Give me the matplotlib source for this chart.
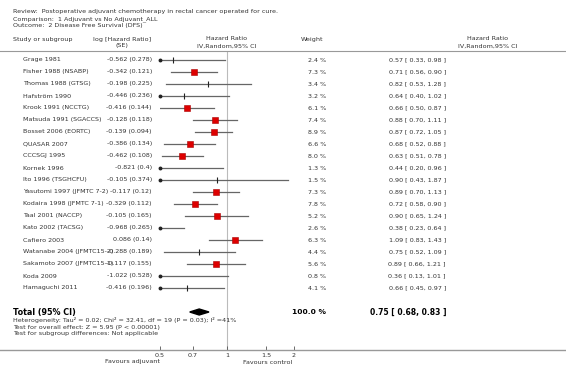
import numpy as np
import matplotlib
matplotlib.use('Agg')
import matplotlib.pyplot as plt
from matplotlib.lines import Line2D
from matplotlib.transforms import blended_transform_factory

studies = ['Grage 1981', 'Fisher 1988 (NSABP)', 'Thomas 1988 (GTSG)', 'Hafström 1990',
           'Krook 1991 (NCCTG)', 'Matsuda 1991 (SGACCS)', 'Bosset 2006 (EORTC)', 'QUASAR 2007',
           'CCCSGJ 1995', 'Kornek 1996', 'Ito 1996 (TSGHCFU)', 'Yasutomi 1997 (JFMTC 7-2)',
           'Kodaira 1998 (JFMTC 7-1)', 'Taal 2001 (NACCP)', 'Kato 2002 (TACSG)', 'Cafiero 2003',
           'Watanabe 2004 (JFMTC15-2)', 'Sakamoto 2007 (JFMTC15-1)', 'Koda 2009', 'Hamaguchi 2011']
log_hr = [-0.562, -0.342, -0.198, -0.446, -0.416, -0.128, -0.139, -0.386, -0.462, -0.821,
          -0.105, -0.117, -0.329, -0.105, -0.968, 0.086, -0.288, -0.117, -1.022, -0.416]
se = ['0.278', '0.121', '0.225', '0.236', '0.144', '0.118', '0.094', '0.134', '0.108', '0.4',
      '0.374', '0.12', '0.112', '0.165', '0.265', '0.14', '0.189', '0.155', '0.528', '0.196']
weight = [2.4, 7.3, 3.4, 3.2, 6.1, 7.4, 8.9, 6.6, 8.0, 1.3,
          1.5, 7.3, 7.8, 5.2, 2.6, 6.3, 4.4, 5.6, 0.8, 4.1]
hr = [0.57, 0.71, 0.82, 0.64, 0.66, 0.88, 0.87, 0.68, 0.63, 0.44,
      0.90, 0.89, 0.72, 0.90, 0.38, 1.09, 0.75, 0.89, 0.36, 0.66]
lo = [0.33, 0.56, 0.53, 0.40, 0.50, 0.70, 0.72, 0.52, 0.51, 0.20,
      0.43, 0.70, 0.58, 0.65, 0.23, 0.83, 0.52, 0.66, 0.13, 0.45]
hi = [0.98, 0.90, 1.28, 1.02, 0.87, 1.11, 1.05, 0.88, 0.78, 0.96,
      1.87, 1.13, 0.90, 1.24, 0.64, 1.43, 1.09, 1.21, 1.01, 0.97]
total = (0.75, 0.68, 0.83)
ticks = [0.5, 0.7, 1, 1.5, 2]

W, H = 566, 373
fig = plt.figure(figsize=(W / 100, H / 100), dpi=100)
fig.patch.set_facecolor('white')
txt = '#333333'
fs = 4.6

def fx(px):
    return px / W

def fy(py):
    return 1 - py / H

# forest axes: x from 0.5 to 2 (log), spans px 160..294
ax = fig.add_axes([fx(160), fy(350), fx(294) - fx(160), (350 - 52) / H])
ax.set_xscale('log')
ax.set_xlim(0.5, 2)
ax.set_ylim((350 - 60) / 12, (52 - 60) / 12)
for s in ax.spines.values():
    s.set_visible(False)
ax.set_yticks([])
ax.set_xticks(ticks)
ax.set_xticklabels(['0.5', '0.7', '1', '1.5', '2'])
ax.xaxis.set_minor_locator(matplotlib.ticker.NullLocator())
ax.tick_params(axis='x', direction='in', length=3, width=0.6, color='#555555',
               labelsize=fs, labelcolor=txt, pad=2)
ax.patch.set_alpha(0)

ax.axvline(1, color='#bbbbbb', lw=0.8, zorder=0)

for i in range(len(studies)):
    ax.plot([lo[i], hi[i]], [i, i], color='#666666', lw=0.9, zorder=2)
    if lo[i] < 0.5:
        ax.plot([0.5], [i], 'o', color='#222222', ms=1.8, clip_on=False, zorder=3)
    if 0.5 <= hr[i] <= 2:
        if weight[i] > 5:
            ax.plot([hr[i]], [i], 's', color='#dd0000', ms=3.3 + 0.1 * weight[i],
                    mec='#aa0000', mew=0.4, zorder=4)
        else:
            ax.plot([hr[i]], [i], '|', color='#222222', ms=4, mew=0.8, zorder=4)

ty = 21
d = 0.25
ax.fill([total[1], total[0], total[2], total[0]], [ty, ty - d, ty, ty + d],
        color='black', zorder=4)

# text columns
tr = blended_transform_factory(fig.transFigure, ax.transData)
for i, name in enumerate(studies):
    ax.text(fx(23), i, name, transform=tr, fontsize=fs, color=txt, va='center', ha='left')
    ax.text(fx(152), i, '%.3f (%s)' % (log_hr[i], se[i]), transform=tr, fontsize=fs,
            color=txt, va='center', ha='right')
    ax.text(fx(326), i, '%.1f %%' % weight[i], transform=tr, fontsize=fs, color=txt,
            va='center', ha='right')
    ax.text(fx(446), i, '%.2f [ %.2f, %.2f ]' % (hr[i], lo[i], hi[i]), transform=tr,
            fontsize=fs, color=txt, va='center', ha='right')

ax.text(fx(13), ty, 'Total (95% CI)', transform=tr, fontsize=5.8, fontweight='bold',
        color='black', va='center', ha='left')
ax.text(fx(326), ty, '100.0 %', transform=tr, fontsize=5.4, fontweight='bold',
        color='black', va='center', ha='right')
ax.text(fx(446), ty, '%.2f [ %.2f, %.2f ]' % total, transform=tr, fontsize=5.5,
        fontweight='bold', color='black', va='center', ha='right')

foot = ['Heterogeneity: Tau\u00b2 = 0.02; Chi\u00b2 = 32.41, df = 19 (P = 0.03); I\u00b2 =41%',
        'Test for overall effect: Z = 5.95 (P < 0.00001)',
        'Test for subgroup differences: Not applicable']
for k, line in enumerate(foot):
    fig.text(fx(13), fy(320 + 7 * k), line, fontsize=fs, color=txt, va='center', ha='left')

head = ['Review:  Postoperative adjuvant chemotherapy in rectal cancer operated for cure.',
        'Comparison:  1 Adjuvant vs No Adjuvant_ALL',
        'Outcome:  2 Disease Free Survival (DFS)']
for k, line in enumerate(head):
    fig.text(fx(13), fy(12 + 7 * k), line, fontsize=fs, color=txt, va='center', ha='left')

fig.text(fx(13), fy(39), 'Study or subgroup', fontsize=fs, color=txt, va='center')
fig.text(fx(122), fy(39), 'log [Hazard Ratio]', fontsize=fs, color=txt, va='center', ha='center')
fig.text(fx(122), fy(46), '(SE)', fontsize=fs, color=txt, va='center', ha='center')
fig.text(fx(227), fy(39), 'Hazard Ratio', fontsize=fs, color=txt, va='center', ha='center')
fig.text(fx(227), fy(46), 'IV,Random,95% CI', fontsize=fs, color=txt, va='center', ha='center')
fig.text(fx(312), fy(39), 'Weight', fontsize=fs, color=txt, va='center', ha='center')
fig.text(fx(488), fy(39), 'Hazard Ratio', fontsize=fs, color=txt, va='center', ha='center')
fig.text(fx(488), fy(46), 'IV,Random,95% CI', fontsize=fs, color=txt, va='center', ha='center')

fig.text(fx(132), fy(362), 'Favours adjuvant', fontsize=fs, color=txt, va='center', ha='center')
fig.text(fx(268), fy(362), 'Favours control', fontsize=fs, color=txt, va='center', ha='center')

fig.add_artist(Line2D([0, 1], [fy(51), fy(51)], color='#999999', lw=0.8))
fig.add_artist(Line2D([0, 1], [fy(350), fy(350)], color='#999999', lw=1.0))

fig.savefig('out.png', dpi=100)
